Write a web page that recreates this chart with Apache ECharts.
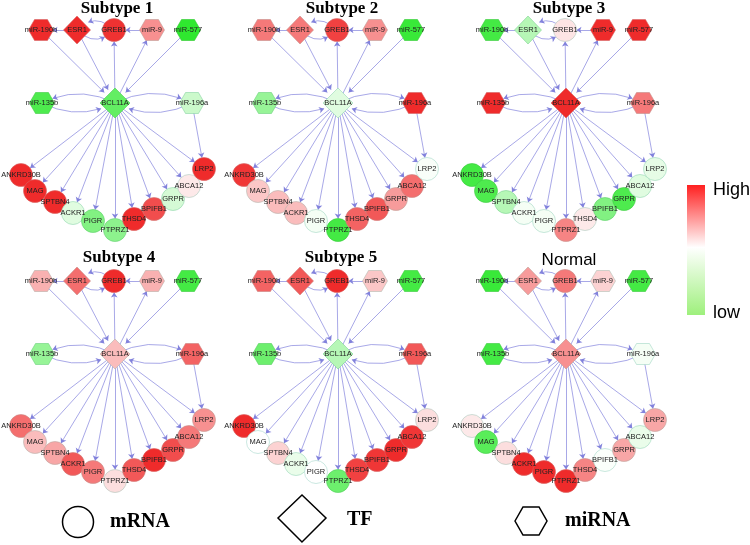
<!DOCTYPE html>
<html><head><meta charset="utf-8">
<script src="https://cdn.jsdelivr.net/npm/echarts@6/dist/echarts.min.js"></script>
<style>html,body{margin:0;padding:0;background:#fff}#c{width:750px;height:545px}</style>
</head><body><div id="c"></div><script>
// ---------- data ----------
const panelTitles = ['Subtype 1', 'Subtype 2', 'Subtype 3', 'Subtype 4', 'Subtype 5', 'Normal'];
const nodeNames = ['miR-190b', 'ESR1', 'GREB1', 'miR-9', 'miR-577', 'miR-135b', 'BCL11A', 'miR-196a',
  'ANKRD30B', 'MAG', 'SPTBN4', 'ACKR1', 'PIGR', 'PTPRZ1', 'THSD4', 'BPIFB1', 'GRPR', 'ABCA12', 'LRP2'];
const nodeTypes = ['miRNA', 'TF', 'mRNA', 'miRNA', 'miRNA', 'miRNA', 'TF', 'miRNA',
  'mRNA', 'mRNA', 'mRNA', 'mRNA', 'mRNA', 'mRNA', 'mRNA', 'mRNA', 'mRNA', 'mRNA', 'mRNA'];
// network layout (same in every panel)
const nodeX = [41, 77, 114, 152, 188, 42, 115, 192, 21, 35, 55, 73, 93, 115, 134, 154, 173, 189, 204];
const nodeY = [30, 30, 30, 30, 30, 103, 103, 103, 175, 191, 202, 213, 221, 230, 219, 209, 199, 186, 169];
// relative expression (-1 low / green ... 0 normal / white ... 1 high / red)
const exprSubtype1 = [0.95, 0.95, 0.92, 0.5, -1, -0.85, -0.75, -0.25, 0.95, 0.95, 0.95, -0.15, -0.6, -0.55, 0.95, 0.8, -0.2, 0.1, 0.95];
const exprSubtype2 = [0.6, 0.6, 0.85, 0.5, -0.95, -0.5, -0.15, 0.95, 0.9, 0.25, 0.3, 0.3, -0.05, -0.9, 0.7, 0.75, 0.45, 0.65, -0.03];
const exprSubtype3 = [-0.9, -0.35, 0.12, 0.95, 0.95, 0.95, 0.95, 0.6, -0.9, -0.85, -0.35, -0.05, -0.05, 0.55, 0.1, -0.6, -0.85, -0.15, -0.12];
const exprSubtype4 = [0.35, 0.65, 0.95, 0.35, -0.9, -0.5, 0.3, 0.7, 0.65, 0.3, 0.4, 0.75, 0.6, 0.15, 0.75, 0.95, 0.8, 0.6, 0.5];
const exprSubtype5 = [0.7, 0.75, 0.95, 0.25, -0.9, -0.7, -0.35, 0.75, 0.95, 0.0, 0.2, -0.1, 0.0, -0.7, 0.85, 0.9, 0.95, 0.9, 0.15];
const exprNormal = [-0.95, 0.45, 0.6, 0.2, -0.9, -0.9, 0.5, -0.05, 0.1, -0.8, 0.15, 0.95, 0.95, 0.95, 0.55, -0.02, 0.4, -0.1, 0.4];
// regulatory edges [source, target]
const edges = [
  ['ESR1', 'miR-190b'], ['miR-190b', 'BCL11A'], ['ESR1', 'BCL11A'], ['GREB1', 'ESR1'], ['ESR1', 'GREB1'],
  ['miR-9', 'GREB1'], ['BCL11A', 'GREB1'], ['BCL11A', 'miR-9'], ['miR-577', 'BCL11A'],
  ['BCL11A', 'miR-135b'], ['miR-135b', 'BCL11A'], ['BCL11A', 'miR-196a'], ['miR-196a', 'BCL11A'],
  ['miR-196a', 'LRP2'],
  ['BCL11A', 'ANKRD30B'], ['BCL11A', 'MAG'], ['BCL11A', 'SPTBN4'], ['BCL11A', 'ACKR1'], ['BCL11A', 'PIGR'],
  ['BCL11A', 'PTPRZ1'], ['BCL11A', 'THSD4'], ['BCL11A', 'BPIFB1'], ['BCL11A', 'GRPR'], ['BCL11A', 'ABCA12'],
  ['BCL11A', 'LRP2']
];
const legendLabels = ['mRNA', 'TF', 'miRNA'];
const scaleLabels = ['High', 'low'];

// ---------- styling / layout ----------
const allExpr = [exprSubtype1, exprSubtype2, exprSubtype3, exprSubtype4, exprSubtype5, exprNormal];
const colorRamp = ['#2fe82f', '#ffffff', '#ee2020'];
const exprMin = -1, exprMax = 1;
function exprColor(v) { return echarts.color.lerp((v - exprMin) / (exprMax - exprMin), colorRamp); }
function exprBorder(v) { return echarts.color.lerp((v - exprMin) / (exprMax - exprMin), ['#2cc82c', '#a8d8cc', '#d86060']); }
const colOffsets = [0, 223, 451];
const rowOffsets = [0, 251];
const PW = 222, PH = 251;
const hexPath = 'path://M0,5L2.9,0L9.1,0L12,5L9.1,10L2.9,10Z';
function symbolFor(type, name) {
  if (type === 'mRNA') return { symbol: 'circle', symbolSize: 23 };
  if (type === 'TF') return { symbol: 'diamond', symbolSize: name === 'BCL11A' ? [30, 30] : [27, 28] };
  return { symbol: hexPath, symbolSize: [25, 21] };
}
function curvenessFor(s, t) {
  const key = s + '>' + t;
  if (key === 'GREB1>ESR1' || key === 'ESR1>GREB1') return -0.5;
  if (key === 'BCL11A>miR-135b' || key === 'miR-135b>BCL11A') return -0.25;
  if (key === 'BCL11A>miR-196a' || key === 'miR-196a>BCL11A') return 0.25;
  return 0;
}

const grids = [], xAxes = [], yAxes = [], series = [], graphics = [];
allExpr.forEach((expr, p) => {
  const col = p % 3, row = Math.floor(p / 3);
  grids.push({ left: colOffsets[col], top: rowOffsets[row], width: PW, height: PH });
  xAxes.push({ gridIndex: p, type: 'value', min: 0, max: PW, show: false });
  yAxes.push({ gridIndex: p, type: 'value', min: 0, max: PH, inverse: true, show: false });
  const nodes = nodeNames.map((n, i) => Object.assign({
    name: n, value: [nodeX[i], nodeY[i]],
    itemStyle: { color: exprColor(expr[i]), borderColor: exprBorder(expr[i]), borderWidth: 0.6, opacity: 1 }
  }, symbolFor(nodeTypes[i], n)));
  const links = edges.map(e => ({ source: e[0], target: e[1], lineStyle: { curveness: curvenessFor(e[0], e[1]) } }));
  series.push({
    type: 'graph', coordinateSystem: 'cartesian2d', xAxisIndex: p, yAxisIndex: p,
    data: nodes, links: links,
    edgeSymbol: ['none', 'arrow'], edgeSymbolSize: [0, 5],
    lineStyle: { color: '#8282dc', width: 0.7, opacity: 1 },
    label: { show: true, position: 'inside', fontSize: 7.5, color: '#222', fontFamily: 'Liberation Sans' },
    emphasis: { disabled: true }, silent: true
  });
});

// titles
const titlePos = [[117, 9], [342, 9], [569, 9], [119, 258], [341, 258], [569, 260]];
panelTitles.forEach((t, i) => {
  const isNormal = t === 'Normal';
  graphics.push({ type: 'text', x: titlePos[i][0], y: titlePos[i][1], style: {
    text: t, align: 'center', verticalAlign: 'middle', fill: '#000',
    font: isNormal ? 'normal 17px "Liberation Sans"' : 'bold 17px "Liberation Serif"' } });
});
// shape legend
graphics.push({ type: 'circle', shape: { cx: 78, cy: 522, r: 15.5 }, style: { fill: 'none', stroke: '#000', lineWidth: 1.5 } });
graphics.push({ type: 'polygon', shape: { points: [[302, 495], [326, 518], [302, 542], [278, 518]] }, style: { fill: 'none', stroke: '#000', lineWidth: 1.5 } });
graphics.push({ type: 'polygon', shape: { points: [[515, 521], [523, 507], [539, 507], [547, 521], [539, 535], [523, 535]] }, style: { fill: 'none', stroke: '#000', lineWidth: 1.5 } });
const legendTextX = [110, 347, 565], legendTextY = [522, 520, 521];
legendLabels.forEach((l, i) => graphics.push({ type: 'text', x: legendTextX[i], y: legendTextY[i],
  style: { text: l, verticalAlign: 'middle', fill: '#000', font: 'bold 20px "Liberation Serif"' } }));
// colour scale
graphics.push({ type: 'rect', shape: { x: 687, y: 185, width: 18, height: 130 }, style: {
  fill: new echarts.graphic.LinearGradient(0, 0, 0, 1, [
    { offset: 0, color: '#ff2020' }, { offset: 0.48, color: '#ffffff' }, { offset: 1, color: '#9ef07c' }]) } });
graphics.push({ type: 'text', x: 713, y: 190, style: { text: scaleLabels[0], verticalAlign: 'middle', fill: '#000', font: '18px "Liberation Sans"' } });
graphics.push({ type: 'text', x: 713, y: 313, style: { text: scaleLabels[1], verticalAlign: 'middle', fill: '#000', font: '18px "Liberation Sans"' } });

const chart = echarts.init(document.getElementById('c'), null, { renderer: 'canvas' });
chart.setOption({
  animation: false,
  backgroundColor: '#fff',
  grid: grids, xAxis: xAxes, yAxis: yAxes,
  series: series,
  graphic: graphics
});
</script></body></html>
